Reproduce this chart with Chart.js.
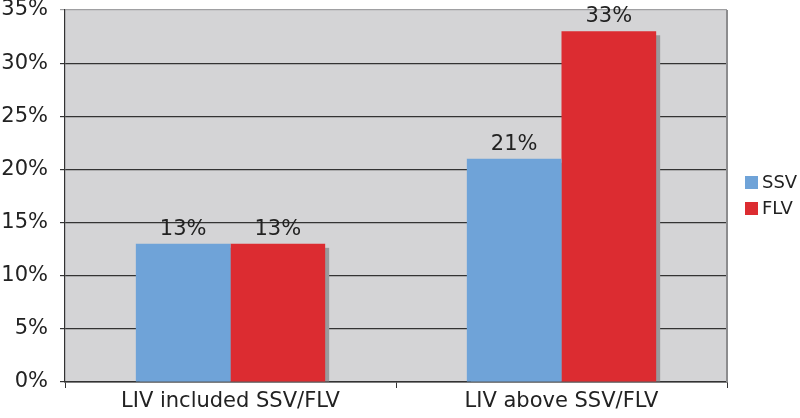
<!DOCTYPE html>
<html>
<head>
<meta charset="utf-8">
<script src="https://cdn.jsdelivr.net/npm/chart.js@4/dist/chart.umd.min.js"></script>
<style>
html,body{margin:0;padding:0;background:#fff;}
#wrap{width:800px;height:418px;}
</style>
</head>
<body>
<div id="wrap"><canvas id="c" width="800" height="418"></canvas></div>
<script>
const categories = ["LIV included SSV/FLV", "LIV above SSV/FLV"];
const seriesNames = ["SSV", "FLV"];
const ssvValues = [13, 21];
const flvValues = [13, 33];
const yTicks = [0, 5, 10, 15, 20, 25, 30, 35];
const colors = ["#6fa3d8", "#dc2c31"];
const FONT = "'DejaVu Sans', Verdana, sans-serif";
const FS = 21;

const bgPlugin = {
  id: 'bg',
  beforeDraw(chart) {
    const {ctx, chartArea: a} = chart;
    ctx.save();
    ctx.fillStyle = '#d4d4d6';
    ctx.fillRect(a.left, a.top, a.right - a.left, a.bottom - a.top);
    ctx.restore();
  },
  beforeDatasetsDraw(chart) {
    const {ctx} = chart;
    ctx.save();
    ctx.fillStyle = '#9a9a9c';
    chart.data.datasets.forEach((ds, i) => {
      const meta = chart.getDatasetMeta(i);
      meta.data.forEach(el => {
        const w = el.width;
        ctx.fillRect(el.x - w / 2 + 4, el.y + 4, w, el.base - el.y - 4);
      });
    });
    ctx.restore();
  },
  afterDatasetsDraw(chart) {
    const {ctx, chartArea: a} = chart;
    ctx.save();
    // right border
    ctx.strokeStyle = '#8c8c8e';
    ctx.lineWidth = 2;
    ctx.beginPath();
    ctx.moveTo(a.right, a.top);
    ctx.lineTo(a.right, a.bottom);
    ctx.stroke();
    // data labels
    ctx.fillStyle = '#222';
    ctx.font = FS + 'px ' + FONT;
    ctx.textAlign = 'center';
    ctx.textBaseline = 'alphabetic';
    chart.data.datasets.forEach((ds, i) => {
      const meta = chart.getDatasetMeta(i);
      meta.data.forEach((el, j) => {
        ctx.fillText(ds.data[j] + '%', el.x, el.y - 9);
      });
    });
    // legend
    const lx = 745, ly = [176, 202];
    ctx.font = '18px ' + FONT;
    chart.data.datasets.forEach((ds, i) => {
      ctx.fillStyle = ds.backgroundColor;
      ctx.fillRect(lx, ly[i], 13, 13);
      ctx.fillStyle = '#222';
      ctx.textAlign = 'left';
      ctx.textBaseline = 'middle';
      ctx.fillText(ds.label, lx + 17, ly[i] + 7);
    });
    ctx.restore();
  }
};

new Chart(document.getElementById('c'), {
  type: 'bar',
  data: {
    labels: categories,
    datasets: [
      {label: seriesNames[0], data: ssvValues, backgroundColor: colors[0]},
      {label: seriesNames[1], data: flvValues, backgroundColor: colors[1]}
    ]
  },
  options: {
    responsive: false,
    animation: false,
    devicePixelRatio: 1,
    layout: {padding: {top: 10, right: 73, left: 0, bottom: 0}},
    plugins: {legend: {display: false}, tooltip: {enabled: false}},
    datasets: {bar: {categoryPercentage: 0.572, barPercentage: 1.0}},
    scales: {
      x: {
        grid: {display: true, drawOnChartArea: false, drawTicks: true, tickLength: 6, color: '#333', offset: true},
        border: {display: true, color: '#333', width: 1.5},
        ticks: {color: '#222', font: {family: FONT, size: FS}, padding: 1},
        afterFit(s) { s.height = 36; s.paddingLeft = 0; s.paddingRight = 0; }
      },
      y: {
        min: 0, max: 35,
        afterBuildTicks(s) { s.ticks = yTicks.map(v => ({value: v})); },
        grid: {
          color: ctx => (ctx.tick && ctx.tick.value === 35) ? '#a0a0a2' : '#333',
          lineWidth: 1.2, tickLength: 5, drawTicks: true
        },
        border: {display: true, color: '#333', width: 1.2},
        ticks: {color: '#222', font: {family: FONT, size: FS}, padding: 12,
          callback: v => v + '%'},
        afterFit(s) { s.width = 65; s.paddingTop = 0; s.paddingBottom = 0; }
      }
    }
  },
  plugins: [bgPlugin]
});
</script>
</body>
</html>
